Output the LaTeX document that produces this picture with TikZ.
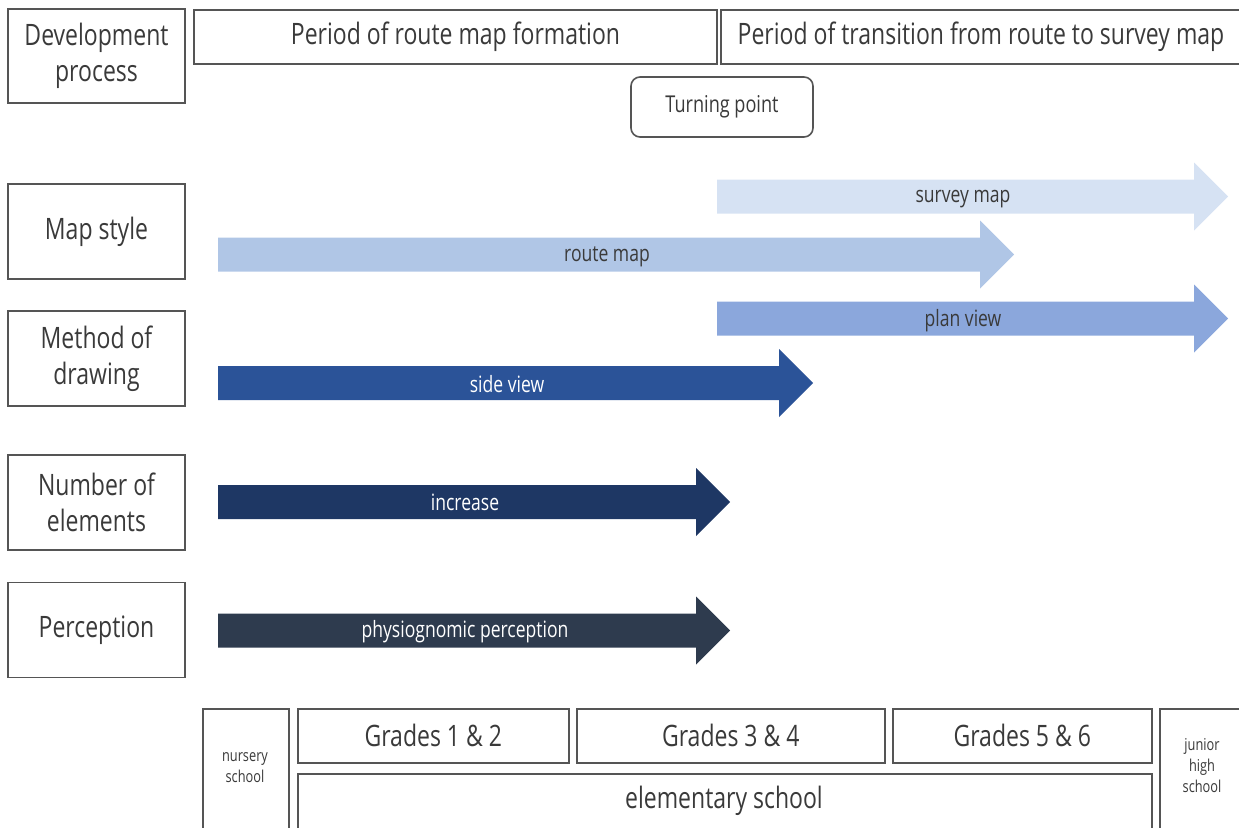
\documentclass[tikz,border=0pt]{standalone}
\usepackage{fontspec}
\setmainfont{Open Sans}[FakeStretch=0.78]
\definecolor{txt}{HTML}{3A3A3A}
\definecolor{frame}{HTML}{555555}
\definecolor{cSurvey}{HTML}{D6E2F3}
\definecolor{cRoute}{HTML}{B0C6E6}
\definecolor{cPlan}{HTML}{8BA7DC}
\definecolor{cSide}{HTML}{2B5398}
\definecolor{cInc}{HTML}{1E3764}
\definecolor{cPerc}{HTML}{2E3B4E}
\tikzset{
  box/.style={draw=frame, line width=1.6pt, fill=white, text=txt, inner sep=0pt, align=center, font=\fontsize{29.5}{36}\selectfont},
  smalltext/.style={text=txt, inner sep=0pt, align=center, font=\fontsize{16.4}{21}\selectfont},
  tpbox/.style={box, rounded corners=9pt, font=\fontsize{23.2}{27}\selectfont},
  alabel/.style={inner sep=0pt, font=\fontsize{22.5}{26}\selectfont},
}
% #1 x start, #2 head base x, #3 tip x, #4 y centre, #5 colour
\newcommand{\fatarrow}[5]{%
  \fill[#5] (#1,#4-17) -- (#2,#4-17) -- (#2,#4-34) -- (#3,#4) -- (#2,#4+34) -- (#2,#4+17) -- (#1,#4+17) -- cycle;}
\begin{document}
\begin{tikzpicture}[x=1pt,y=-1pt]
\useasboundingbox (0,0) rectangle (1239,827);
\clip (0,0) rectangle (1239,827);
% header
\node[box, minimum width=177pt, minimum height=94pt] (dev) at (96.5,56) {Development\\process};
\node[box, minimum width=523pt, minimum height=54pt] (p1) at (455.5,37) {Period of route map formation};
\node[box, minimum width=520pt, minimum height=54pt] (p2) at (981,37) {Period of transition from route to survey map};
\node[tpbox, minimum width=182pt, minimum height=60pt] (tp) at (722,107) {Turning point};
% left categories
\node[box, minimum width=177pt, minimum height=95pt] (ms) at (96.5,231.5) {Map style};
\node[box, minimum width=177pt, minimum height=95pt] (md) at (96.5,358.5) {Method of\\drawing};
\node[box, minimum width=177pt, minimum height=95pt] (ne) at (96.5,502.5) {Number of\\elements};
\node[box, minimum width=177pt, minimum height=95pt] (pe) at (96.5,630) {Perception};
% arrows
\fatarrow{717}{1194}{1228}{196.5}{cSurvey}
\node[alabel, text=txt] (a1) at (963,199) {survey map};
\fatarrow{218}{980}{1014}{254.5}{cRoute}
\node[alabel, text=txt] (a2) at (607,257) {route map};
\fatarrow{717}{1194}{1228}{318.5}{cPlan}
\node[alabel, text=txt] (a3) at (963,320.5) {plan view};
\fatarrow{218}{779}{813}{383}{cSide}
\node[alabel, text=white] (a4) at (507,384) {side view};
\fatarrow{218}{696}{730}{502}{cInc}
\node[alabel, text=white] (a5) at (465,502) {increase};
\fatarrow{218}{696}{730}{630.5}{cPerc}
\node[alabel, text=white] (a6) at (465,631.5) {physiognomic perception};
% bottom school stages
\node[box, minimum width=86pt, minimum height=140pt, anchor=north west] (ns) at (202,708) {};
\node[smalltext] (nst) at (245,768) {nursery\\school};
\node[box, minimum width=271pt, minimum height=54pt, anchor=north west] (g12) at (297,708) {Grades 1 \& 2};
\node[box, minimum width=308pt, minimum height=54pt, anchor=north west] (g34) at (576,708) {Grades 3 \& 4};
\node[box, minimum width=259pt, minimum height=54pt, anchor=north west] (g56) at (892,708) {Grades 5 \& 6};
\node[box, minimum width=854pt, minimum height=80pt, anchor=north west] (el) at (297,773) {};
\node[text=txt, inner sep=0pt, font=\fontsize{29.5}{36}\selectfont] (elt) at (724,801) {elementary school};
\node[box, minimum width=90pt, minimum height=140pt, anchor=north west] (jh) at (1159,708) {};
\node[smalltext] (jht) at (1202,766) {junior\\high\\school};
\end{tikzpicture}
\end{document}
